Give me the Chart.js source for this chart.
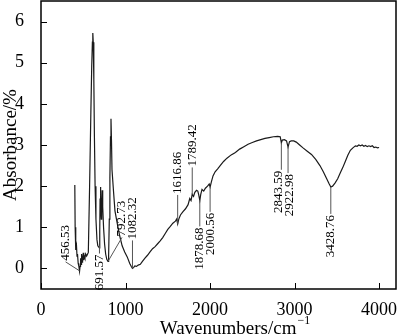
<!DOCTYPE html>
<html>
<head>
<meta charset="utf-8">
<script src="https://cdn.jsdelivr.net/npm/chart.js@4.4.0/dist/chart.umd.min.js"></script>
<style>
  html, body { margin: 0; padding: 0; background: #fff; }
  #wrap { width: 400px; height: 336px; }
</style>
</head>
<body>
<div id="wrap"><canvas id="ir"></canvas></div>
<script>
// spectrum (wavenumber in cm-1, absorbance in %)
const wavenumbers = [
  400, 404, 408, 414, 420, 426, 432, 440, 448, 456, 462, 468, 474, 480, 486, 492, 500, 506, 512, 520,
  528, 540, 560, 575, 590, 600, 608, 613, 618, 625, 632, 640, 650, 662, 672, 691, 695, 699, 703, 708,
  713, 718, 724, 730, 740, 752, 765, 778, 793, 800, 808, 815, 822, 828, 834, 840, 857, 875, 897, 930,
  960, 990, 1020, 1050, 1070, 1082, 1095, 1110, 1130, 1150, 1175, 1200, 1230, 1260, 1290, 1320, 1350, 1380, 1410, 1440,
  1470, 1500, 1530, 1560, 1590, 1605, 1617, 1630, 1650, 1680, 1710, 1740, 1760, 1775, 1789, 1805, 1820, 1840, 1855, 1865,
  1879, 1890, 1905, 1925, 1945, 1970, 1990, 2001, 2015, 2035, 2060, 2090, 2120, 2160, 2200, 2250, 2300, 2350, 2400, 2450,
  2500, 2550, 2600, 2650, 2700, 2750, 2800, 2830, 2844, 2855, 2880, 2905, 2923, 2940, 2960, 2990, 3020, 3060, 3100, 3150,
  3200, 3250, 3300, 3340, 3380, 3410, 3429, 3450, 3480, 3510, 3540, 3570, 3600, 3630, 3660, 3690, 3720, 3740, 3760, 3780,
  3800, 3820, 3840, 3860, 3880, 3900, 3920, 3940, 3960, 3980, 4000
];
const absorbance = [
  2.03, 1.0, 0.6, 0.45, 0.55, 0.3, 0.35, 0.12, 0.05, -0.07, 0.05, 0.25, 0.1, 0.35, 0.15, 0.2, 0.38, 0.2, 0.3, 0.25,
  0.35, 0.3, 0.39, 2.0, 3.8, 4.9, 5.5, 5.72, 5.5, 4.6, 3.2, 2.0, 1.2, 0.7, 0.55, 0.5, 0.9, 1.7, 1.98, 1.5,
  1.2, 1.6, 1.9, 1.5, 1.0, 0.6, 0.35, 0.22, 0.17, 0.3, 1.2, 2.2, 3.2, 3.64, 3.1, 2.4, 1.9, 1.4, 1.15, 0.8,
  0.55, 0.4, 0.28, 0.12, 0.04, 0.0, 0.02, 0.06, 0.05, 0.08, 0.1, 0.17, 0.25, 0.32, 0.4, 0.48, 0.53, 0.6, 0.67, 0.75,
  0.85, 0.95, 1.02, 1.1, 1.15, 1.2, 1.08, 1.2, 1.3, 1.38, 1.45, 1.55, 1.7, 1.65, 1.8, 1.75, 1.85, 1.9, 1.88, 1.8,
  1.65, 1.8, 1.92, 1.88, 1.95, 2.0, 2.05, 1.98, 2.1, 2.25, 2.35, 2.42, 2.5, 2.6, 2.68, 2.76, 2.82, 2.9, 2.96, 3.02,
  3.06, 3.1, 3.13, 3.16, 3.18, 3.2, 3.21, 3.2, 3.05, 3.12, 3.13, 3.1, 2.95, 3.08, 3.1, 3.1, 3.07, 3.0, 2.93, 2.85,
  2.77, 2.65, 2.5, 2.35, 2.18, 2.05, 1.98, 2.0, 2.08, 2.18, 2.32, 2.45, 2.6, 2.75, 2.87, 2.93, 2.98, 2.97, 3.0, 2.98,
  3.0, 2.97, 2.99, 2.96, 2.98, 2.96, 2.98, 2.94, 2.95, 2.93, 2.94
];
const peakLabels = ['456.53', '691.57', '792.73', '1082.32', '1616.86', '1789.42',
                    '1878.68', '2000.56', '2843.59', '2922.98', '3428.76'];
const xTicks = [0, 1000, 2000, 3000, 4000];
const yTicks = [0, 1, 2, 3, 4, 5, 6];

// leader offsets in px from the curve point (negative dy = text above the curve)
const leaderStyle = [
  { dx: -14, dy: -9 }, { dx: 0, dy: 8 }, { dx: 14, dy: -24 }, { dx: 0, dy: -28 },
  { dx: 0, dy: -29 }, { dx: 0, dy: -27 }, { dx: 0, dy: 26 }, { dx: 0, dy: 25 },
  { dx: 0, dy: 27, tx: -3 }, { dx: 0, dy: 26, tx: 2 }, { dx: 0, dy: 27 }
];

const serif = '"Liberation Serif", "Times New Roman", serif';

function absorbanceAt(wn) {
  for (let i = 1; i < wavenumbers.length; i++) {
    if (wavenumbers[i] >= wn) {
      const t = (wn - wavenumbers[i - 1]) / (wavenumbers[i] - wavenumbers[i - 1]);
      return absorbance[i - 1] + t * (absorbance[i] - absorbance[i - 1]);
    }
  }
  return absorbance[absorbance.length - 1];
}

const frameAndLabels = {
  id: 'frameAndLabels',
  afterDatasetsDraw(chart) {
    const { ctx, chartArea: a, scales: { x, y } } = chart;
    ctx.save();

    // peak leaders + rotated labels
    ctx.strokeStyle = '#555';
    ctx.lineWidth = 1;
    ctx.fillStyle = '#000';
    ctx.font = '13px ' + serif;
    ctx.textBaseline = 'middle';
    peakLabels.forEach((txt, i) => {
      const wn = parseFloat(txt);
      const px = x.getPixelForValue(wn);
      const py = y.getPixelForValue(absorbanceAt(wn));
      const s = leaderStyle[i];
      const ex = px + s.dx, ey = py + s.dy;
      ctx.beginPath();
      ctx.moveTo(px, py);
      ctx.lineTo(ex, ey);
      ctx.stroke();
      ctx.save();
      const tx = ex + (s.tx || 0);
      if (s.dy < 0) {
        ctx.translate(tx, ey - 1);
        ctx.rotate(-Math.PI / 2);
        ctx.textAlign = 'left';
      } else {
        ctx.translate(tx, ey + 1);
        ctx.rotate(-Math.PI / 2);
        ctx.textAlign = 'right';
      }
      ctx.fillText(txt, 0, 0);
      ctx.restore();
    });

    // box
    ctx.strokeStyle = '#000';
    ctx.lineWidth = 1.5;
    ctx.strokeRect(a.left, a.top, a.right - a.left, a.bottom - a.top);

    // inward ticks
    ctx.lineWidth = 1;
    ctx.beginPath();
    x.ticks.forEach(t => {
      const px = Math.round(x.getPixelForValue(t.value)) + 0.5;
      ctx.moveTo(px, a.bottom);
      ctx.lineTo(px, a.bottom - 6);
    });
    y.ticks.forEach(t => {
      const py = Math.round(y.getPixelForValue(t.value)) + 0.5;
      ctx.moveTo(a.left, py);
      ctx.lineTo(a.left + 6, py);
    });
    ctx.stroke();

    // x title with superscript
    const main = 'Wavenumbers/cm';
    const sup = '\u22121';
    ctx.font = '19px ' + serif;
    const w1 = ctx.measureText(main).width;
    ctx.font = '12px ' + serif;
    const w2 = ctx.measureText(sup).width;
    const left = (a.left + a.right) / 2 + 16 - (w1 + w2) / 2;
    ctx.textAlign = 'left';
    ctx.textBaseline = 'alphabetic';
    ctx.font = '19px ' + serif;
    ctx.fillText(main, left, chart.height - 2);
    ctx.font = '12px ' + serif;
    ctx.fillText(sup, left + w1 + 1, chart.height - 12);
    ctx.restore();
  }
};

new Chart(document.getElementById('ir'), {
  type: 'line',
  data: {
    datasets: [{
      data: wavenumbers.map((wn, i) => ({ x: wn, y: absorbance[i] })),
      borderColor: '#1a1a1a',
      borderWidth: 1.2,
      pointRadius: 0,
      tension: 0,
      fill: false
    }]
  },
  options: {
    responsive: true,
    maintainAspectRatio: false,
    animation: false,
    layout: { padding: { top: 1, right: 4, left: 0, bottom: 0 } },
    plugins: { legend: { display: false }, tooltip: { enabled: false } },
    scales: {
      x: {
        type: 'linear',
        min: 0,
        max: 4200,
        afterBuildTicks: s => { s.ticks = xTicks.map(v => ({ value: v })); },
        afterFit: s => { s.height = 47; s.paddingLeft = 0; s.paddingRight = 0; },
        grid: { display: false },
        border: { display: false },
        ticks: {
          color: '#000',
          font: { family: serif, size: 18 },
          padding: 2,
          maxRotation: 0,
          autoSkip: false,
          callback: v => String(v)
        }
      },
      y: {
        min: -0.5,
        max: 6.5,
        afterBuildTicks: s => { s.ticks = yTicks.map(v => ({ value: v })); },
        afterFit: s => { s.width = 41; s.paddingTop = 0; s.paddingBottom = 0; },
        grid: { display: false },
        border: { display: false },
        title: {
          display: true,
          text: 'Absorbance/%',
          color: '#000',
          font: { family: serif, size: 19 },
          padding: { top: 0, bottom: 0 }
        },
        ticks: {
          color: '#000',
          font: { family: serif, size: 18 },
          padding: 9,
          autoSkip: false,
          callback: v => String(v)
        }
      }
    }
  },
  plugins: [frameAndLabels]
});
</script>
</body>
</html>
